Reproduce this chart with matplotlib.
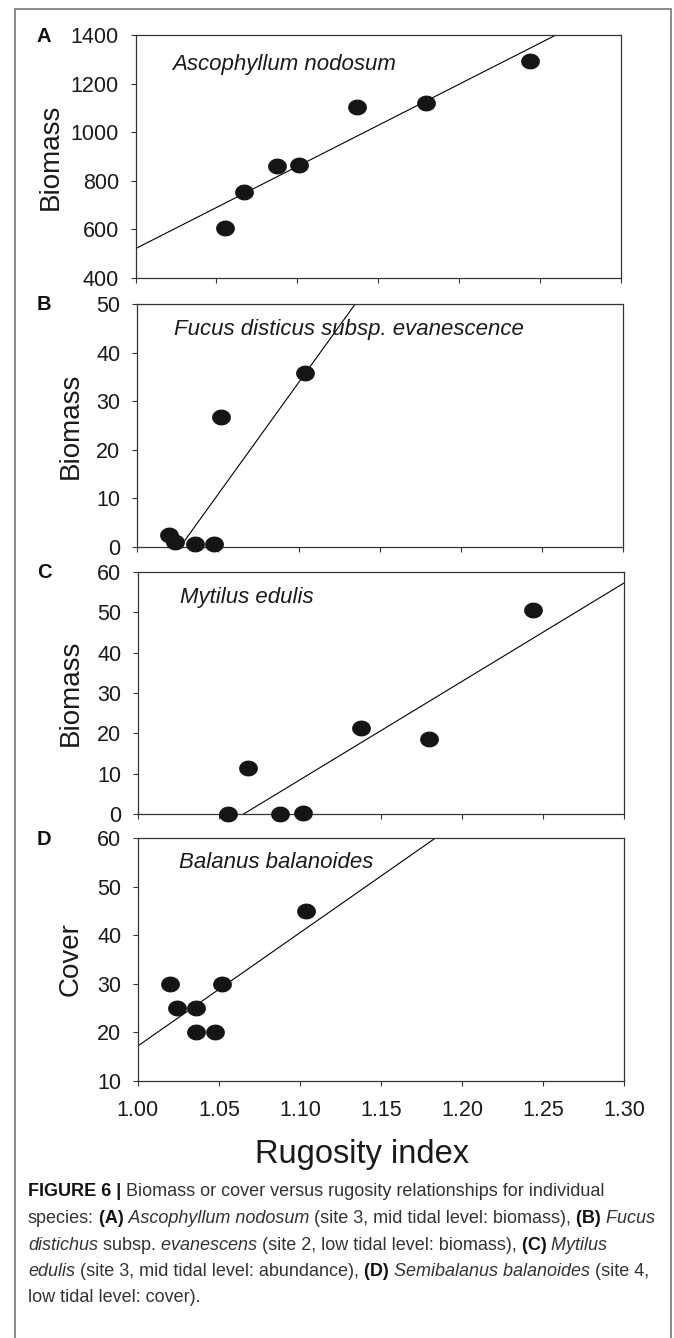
import numpy as np
import matplotlib

matplotlib.use("Agg")
import matplotlib.pyplot as plt
from matplotlib.patches import Rectangle
from matplotlib.text import Annotation

plt.rcParams["font.family"] = ["Liberation Sans", "DejaVu Sans"]

W, H = 674, 1338

# ---- data ----
a_x = [1.055, 1.067, 1.0875, 1.101, 1.137, 1.1795, 1.2436]
a_y = [605, 752, 862, 863, 1103, 1119, 1293]
b_x = [1.0197, 1.0234, 1.0356, 1.0476, 1.0518, 1.1036]
b_y = [2.4, 1.0, 0.7, 0.7, 26.8, 35.9]
c_x = [1.0557, 1.0677, 1.0876, 1.1017, 1.1378, 1.1797, 1.2440]
c_y = [0, 11.5, 0, 0.2, 21.4, 18.5, 50.7]
d_x = [1.0199, 1.0239, 1.0358, 1.0518, 1.0358, 1.0478, 1.1035]
d_y = [30, 25, 25, 30, 20, 20, 45]

# fitted lines: a point on the line and its slope
fit_points = [(1.00, 521), (1.0266, 0), (1.0653, 0), (1.00, 17.2)]
fit_slopes = [3381, 462.5, 244, 233]

letters = ["A", "B", "C", "D"]
species = ["Ascophyllum nodosum", "Fucus disticus subsp. evanescence",
           "Mytilus edulis", "Balanus balanoides"]
ylabels = ["Biomass", "Biomass", "Biomass", "Cover"]
ylims = [(400, 1400), (0, 50), (0, 60), (10, 60)]
ytick_steps = [200, 10, 10, 10]
xlabel = "Rugosity index"

caption = [
    [("FIGURE 6 |", "b"), (" Biomass or cover versus rugosity relationships for individual", "n")],
    [("species:", "n"), (" (A)", "b"), (" Ascophyllum nodosum", "i"),
     (" (site 3, mid tidal level: biomass),", "n"), (" (B)", "b"), (" Fucus", "i")],
    [("distichus", "i"), (" subsp.", "n"), (" evanescens", "i"),
     (" (site 2, low tidal level: biomass),", "n"), (" (C)", "b"), (" Mytilus", "i")],
    [("edulis", "i"), (" (site 3, mid tidal level: abundance),", "n"), (" (D)", "b"),
     (" Semibalanus balanoides", "i"), (" (site 4,", "n")],
    [("low tidal level: cover).", "n")],
]

xs = [a_x, b_x, c_x, d_x]
ys = [a_y, b_y, c_y, d_y]

# layout in pixels (left, top, right, bottom)
panel_px = [(135.6, 35, 620.7, 278), (137, 304, 623, 547),
            (137.8, 572, 624, 814), (137.8, 838, 624, 1081)]
ylabel_px = [64, 83.5, 84, 83.5]
species_pos = [(0.075, 0.88), (0.077, 0.896), (0.087, 0.894), (0.084, 0.898)]

# slightly wide dots, like the stretched original
t = np.linspace(0, 2 * np.pi, 60)
dot = np.column_stack([1.2 * np.cos(t), np.sin(t)])

fig = plt.figure(figsize=(W / 100, H / 100), dpi=100)

for i in range(4):
    l, tp, r, b = panel_px[i]
    ax = fig.add_axes([l / W, 1 - b / H, (r - l) / W, (b - tp) / H])
    ax.plot(xs[i], ys[i], linestyle="none", marker=dot, markersize=12.5,
            color="#151515", clip_on=False, zorder=3)
    ax.axline(fit_points[i], slope=fit_slopes[i], color="black", lw=0.8, zorder=2)

    ax.set_xlim(1.0, 1.3)
    ax.set_ylim(*ylims[i])
    ax.set_xticks(np.arange(1.0, 1.3001, 0.05))
    lo, hi = ylims[i]
    ax.set_yticks(np.arange(lo, hi + 1, ytick_steps[i]))
    ax.tick_params(direction="out", length=3.5, width=0.8, color="#333333",
                   labelsize=15.5, labelcolor="#1a1a1a")
    ax.tick_params(axis="y", pad=8.5)
    ax.tick_params(axis="x", pad=10)
    if i < 3:
        ax.set_xticklabels([])
    else:
        ax.set_xticklabels([f"{v:.2f}" for v in np.arange(1.0, 1.3001, 0.05)])
    for s in ax.spines.values():
        s.set_color("#333333")
        s.set_linewidth(0.9)

    ax.set_ylabel(ylabels[i], fontsize=20, color="#1a1a1a")
    ax.yaxis.set_label_coords((ylabel_px[i] - l) / (r - l), 0.5)
    ax.text(species_pos[i][0], species_pos[i][1], species[i], transform=ax.transAxes,
            fontsize=16, style="italic", va="center", ha="left", color="#1a1a1a")
    ax.text((36.7 - l) / (r - l), 1.0 - 1.0 / (b - tp), letters[i], transform=ax.transAxes,
            fontsize=14.5, fontweight="bold", va="center", ha="left", color="#111111")

fig.text(361.6 / W, 1 - 1155 / H, xlabel, ha="center", va="center",
         fontsize=23.5, color="#1a1a1a")

# caption, one line at a time, segments chained left to right
caption_base = [1196, 1223, 1250, 1276.5, 1302]
for row, line in enumerate(caption):
    yb = H - caption_base[row]
    prev = None
    for text, style in line:
        kw = dict(fontsize=13, va="baseline", ha="left",
                  color="#111111" if style == "b" else "#333333",
                  fontweight="bold" if style == "b" else "normal",
                  fontstyle="italic" if style == "i" else "normal")
        if prev is None:
            prev = fig.text(28 / W, yb / H, text, **kw)
        else:
            ann = Annotation(text, xy=(1, yb), xycoords=(prev, "figure pixels"), **kw)
            fig.add_artist(ann)
            prev = ann

# outer frame (its bottom runs past the image)
fig.add_artist(Rectangle((14.5 / W, -0.02), (671 - 14.5) / W, 1.02 - 8.5 / H,
                         transform=fig.transFigure, fill=False,
                         edgecolor="#777777", linewidth=1.2))

fig.savefig("out.png", dpi=100)
